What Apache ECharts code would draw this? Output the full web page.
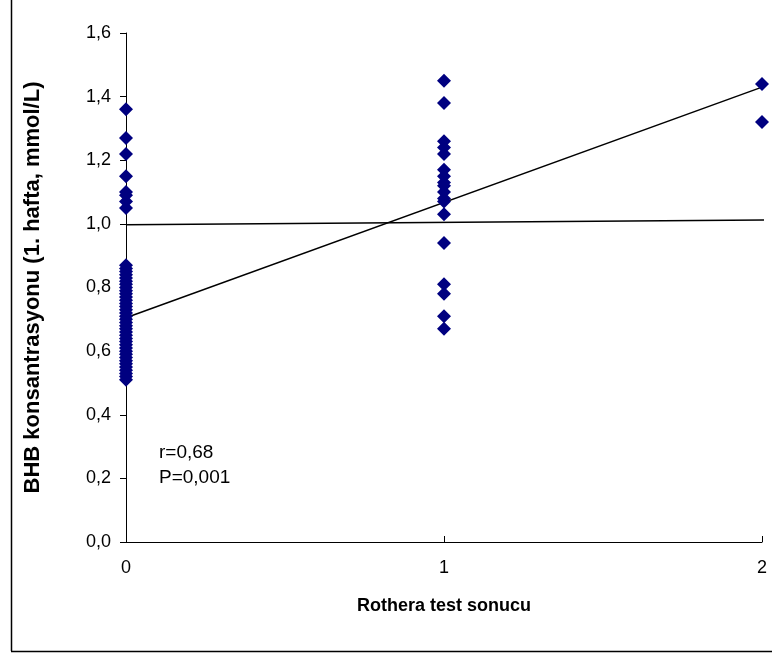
<!DOCTYPE html>
<html>
<head>
<meta charset="utf-8">
<script src="https://cdn.jsdelivr.net/npm/echarts@6/dist/echarts.min.js"></script>
<style>
  html, body { margin: 0; padding: 0; background: #fff; }
  #chart { width: 772px; height: 655px; }
</style>
</head>
<body>
<div id="chart"></div>
<script>
// values
var y0 = [1.36, 1.27, 1.22, 1.15, 1.10, 1.09, 1.07, 1.05,
          0.87, 0.86, 0.85, 0.84, 0.83, 0.82, 0.81, 0.80, 0.79, 0.78, 0.77, 0.76,
          0.75, 0.74, 0.73, 0.72, 0.71, 0.70, 0.69, 0.68, 0.67, 0.66, 0.65, 0.64,
          0.63, 0.62, 0.61, 0.60, 0.59, 0.58, 0.57, 0.56, 0.55, 0.54, 0.53, 0.52, 0.51];
var y1 = [1.45, 1.38, 1.26, 1.24, 1.22, 1.17, 1.15, 1.13, 1.12, 1.10, 1.08, 1.07,
          1.03, 0.94, 0.81, 0.78, 0.71, 0.67];
var y2 = [1.44, 1.32];
var trendLine = [[0, 0.705], [2, 1.43]];
var flatLine = [[0, 0.997], [2.03, 1.012]];
var yTicks = ['0,0', '0,2', '0,4', '0,6', '0,8', '1,0', '1,2', '1,4', '1,6'];

var points = [];
y0.forEach(function (v) { points.push([0, v]); });
y1.forEach(function (v) { points.push([1, v]); });
y2.forEach(function (v) { points.push([2, v]); });

var font = '"Liberation Sans", Arial, sans-serif';
var chart = echarts.init(document.getElementById('chart'));
var option = {
    animation: false,
    grid: { left: 126, right: 10, top: 33, bottom: 113 },
    xAxis: {
        type: 'value', min: 0, max: 2, interval: 1,
        name: 'Rothera test sonucu', nameLocation: 'middle', nameGap: 55,
        nameTextStyle: { fontFamily: font, fontSize: 18, fontWeight: 'bold', color: '#000' },
        axisLine: { lineStyle: { color: '#000', width: 1 } },
        axisTick: { inside: true, length: 6, lineStyle: { color: '#000' } },
        axisLabel: { fontFamily: font, fontSize: 18, color: '#000', margin: 17 },
        splitLine: { show: false }
    },
    yAxis: {
        type: 'value', min: 0, max: 1.6, interval: 0.2,
        name: 'BHB konsantrasyonu (1. hafta, mmol/L)', nameLocation: 'middle', nameGap: 82,
        nameTextStyle: { fontFamily: font, fontSize: 22, fontWeight: 'bold', color: '#000' },
        axisLine: { show: true, lineStyle: { color: '#000', width: 1 } },
        axisTick: { show: true, length: 6, lineStyle: { color: '#000' } },
        axisLabel: {
            fontFamily: font, fontSize: 18, color: '#000', margin: 15,
            formatter: function (v) { return yTicks[Math.round(v / 0.2)]; }
        },
        splitLine: { show: false }
    },
    series: [
        {
            type: 'scatter', data: points, symbol: 'diamond', symbolSize: 14,
            itemStyle: { color: '#000080', opacity: 1 }, z: 3
        },
        {
            type: 'line', data: trendLine, symbol: 'none',
            lineStyle: { color: '#000', width: 1.5 }, z: 2
        },
        {
            type: 'line', data: flatLine, symbol: 'none', clip: false,
            lineStyle: { color: '#000', width: 1.5 }, z: 2
        }
    ],
    graphic: [
        { type: 'text', left: 159, top: 443, style: { text: 'r=0,68', font: '19px ' + font, fill: '#000' } },
        { type: 'text', left: 159, top: 468, style: { text: 'P=0,001', font: '19px ' + font, fill: '#000' } },
        { type: 'line', shape: { x1: 11.5, y1: 0, x2: 11.5, y2: 651 }, style: { stroke: '#000', lineWidth: 1.5 } },
        { type: 'line', shape: { x1: 11, y1: 651.5, x2: 772, y2: 651.5 }, style: { stroke: '#000', lineWidth: 1.5 } }
    ]
};
chart.setOption(option);
</script>
</body>
</html>
